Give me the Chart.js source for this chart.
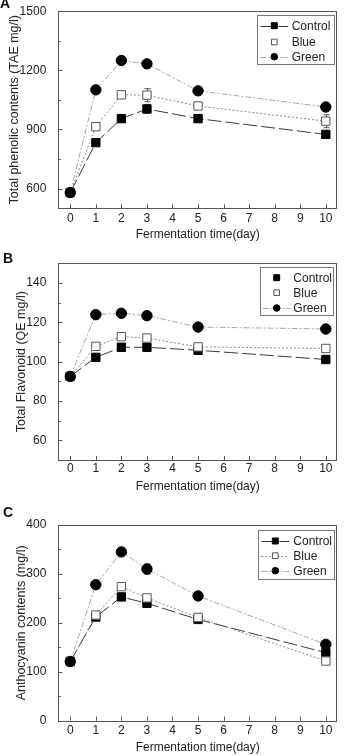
<!DOCTYPE html>
<html><head><meta charset="utf-8">
<script src="https://cdn.jsdelivr.net/npm/chart.js@4.4.1/dist/chart.umd.min.js"></script>
<style>
html,body{margin:0;padding:0;background:#fff;}
#wrap{position:relative;width:344px;height:756px;overflow:hidden;font-family:"Liberation Sans",Arial,sans-serif;}
.panel{position:absolute;left:0;width:344px;}
.letter{position:absolute;font-weight:bold;font-size:14px;color:#111;line-height:1;font-family:"Liberation Sans",Arial,sans-serif;}
canvas{display:block;}
</style></head><body>
<div id="wrap">
  <div class="panel" style="top:0;height:250px"><canvas id="cA" width="344" height="250"></canvas></div>
  <div class="panel" style="top:250px;height:250px"><canvas id="cB" width="344" height="250"></canvas></div>
  <div class="panel" style="top:500px;height:256px"><canvas id="cC" width="344" height="256"></canvas></div>
  <div class="letter" style="left:0px;top:-4px">A</div>
  <div class="letter" style="left:3px;top:251px">B</div>
  <div class="letter" style="left:3px;top:505px">C</div>
</div>
<script>
// ---- data ----
const days = [0, 1, 2, 3, 5, 10];
const dayTicks = [0, 1, 2, 3, 4, 5, 6, 7, 8, 9, 10];
const seriesNames = ['Control', 'Blue', 'Green'];
const xTitle = 'Fermentation time(day)';

const phenolTitle = 'Total phenolic contents (TAE mg/l)';
const phenolControl = [580, 833, 955, 1004, 955, 875];
const phenolBlue = [580, 914, 1076, 1074, 1019, 942];
const phenolGreen = [580, 1101, 1250, 1233, 1096, 1014];
const phenolControlErr = [6, 12, 14, 20, 12, 10];
const phenolBlueErr = [6, 12, 16, 33, 14, 33];
const phenolGreenErr = [6, 10, 14, 12, 12, 10];
const phenolTicks = [600, 900, 1200, 1500];
const phenolMinor = [750, 1050, 1350];

const flavTitle = 'Total Flavonoid (QE mg/l)';
const flavControl = [92.5, 102.2, 107.3, 107.3, 105.8, 101.1];
const flavBlue = [92.5, 107.8, 112.7, 112.0, 107.5, 106.7];
const flavGreen = [92.5, 123.9, 124.6, 123.4, 117.6, 116.6];
const flavControlErr = [0.5, 0.8, 0.8, 0.8, 0.6, 0.8];
const flavBlueErr = [0.5, 0.8, 1.0, 1.0, 0.8, 1.0];
const flavGreenErr = [0.5, 0.8, 0.8, 0.8, 0.8, 0.8];
const flavTicks = [60, 80, 100, 120, 140];
const flavMinor = [70, 90, 110, 130];

const anthoTitle = 'Anthocyanin contents (mg/l)';
const anthoControl = [121, 212, 253, 240, 207, 139];
const anthoBlue = [121, 216, 274, 251, 211, 122];
const anthoGreen = [121, 278, 345, 310, 255, 156];
const anthoControlErr = [3, 5, 6, 5, 5, 5];
const anthoBlueErr = [3, 5, 6, 6, 5, 5];
const anthoGreenErr = [3, 5, 6, 10, 6, 6];
const anthoTicks = [0, 100, 200, 300, 400];
const anthoMinor = [50, 150, 250, 350];

// ---- styles ----
const FONT = '"Liberation Sans", Arial, sans-serif';
const TXT = '#222';
const STY = {
  Control: {color: '#3a3a3a', dash: [14, 4], ps: 'rect', r: 5.9, bg: '#000', pb: '#000', lr: 4.2},
  Blue:    {color: '#8a8a8a', dash: [2, 2], ps: 'rect', r: 5.9, bg: '#fff', pb: '#555', lr: 4.0},
  Green:   {color: '#a8a8a8', dash: [6, 2, 2, 2], ps: 'circle', r: 5.2, bg: '#000', pb: '#000', lr: 3.3}
};
const ORDER = {Control: 2, Blue: 1, Green: 0};

function pts(vals) { return days.map((d, i) => ({x: d, y: vals[i]})); }

function makeDeco(cfg) {
  return {
    id: 'deco',
    beforeDatasetsDraw(chart) {
      const ctx = chart.ctx, a = chart.chartArea;
      const xs = chart.scales.x, ys = chart.scales.y;
      ctx.save();
      ctx.strokeStyle = '#555'; ctx.lineWidth = 1; ctx.setLineDash([]);
      ctx.strokeRect(Math.round(a.left) + 0.5, Math.round(a.top) + 0.5,
        Math.round(a.right - a.left) - 1, Math.round(a.bottom - a.top));
      ctx.beginPath();
      cfg.major.forEach(v => { const y = Math.round(ys.getPixelForValue(v)) + 0.5; ctx.moveTo(a.left, y); ctx.lineTo(a.left + 4, y); });
      cfg.minor.forEach(v => { const y = Math.round(ys.getPixelForValue(v)) + 0.5; ctx.moveTo(a.left, y); ctx.lineTo(a.left + 2.5, y); });
      dayTicks.forEach(v => { const x = Math.round(xs.getPixelForValue(v)) + 0.5; ctx.moveTo(x, a.bottom); ctx.lineTo(x, a.bottom - 4); });
      ctx.stroke();
      chart.data.datasets.forEach(ds => {
        if (!ds.errors) return;
        ctx.strokeStyle = ds.pointBorderColor; ctx.lineWidth = 1;
        ctx.beginPath();
        ds.data.forEach((p, i) => {
          const e = ds.errors[i]; if (!e) return;
          const x = Math.round(xs.getPixelForValue(p.x)) + 0.5;
          const y1 = ys.getPixelForValue(p.y - e), y2 = ys.getPixelForValue(p.y + e);
          ctx.moveTo(x, y1); ctx.lineTo(x, y2);
          ctx.moveTo(x - 3, y1); ctx.lineTo(x + 3, y1);
          ctx.moveTo(x - 3, y2); ctx.lineTo(x + 3, y2);
        });
        ctx.stroke();
      });
      ctx.restore();
    },
    afterDraw(chart) {
      const ctx = chart.ctx, L = cfg.legend;
      ctx.save();
      ctx.fillStyle = '#fff';
      ctx.fillRect(L.box[0], L.box[1], L.box[2] - L.box[0], L.box[3] - L.box[1]);
      ctx.strokeStyle = '#777'; ctx.lineWidth = 1; ctx.setLineDash([]);
      ctx.strokeRect(Math.round(L.box[0]) + 0.5, Math.round(L.box[1]) + 0.5,
        Math.round(L.box[2] - L.box[0]), Math.round(L.box[3] - L.box[1]));
      seriesNames.forEach((name, i) => {
        const s = STY[name], y = L.rows[i];
        if (L.lines[i]) {
          ctx.strokeStyle = s.color; ctx.setLineDash(s.dash); ctx.lineWidth = 1;
          ctx.beginPath(); ctx.moveTo(L.mx - 14, Math.round(y) + 0.5); ctx.lineTo(L.mx + 14, Math.round(y) + 0.5); ctx.stroke();
        }
        ctx.setLineDash([]);
        ctx.fillStyle = s.bg; ctx.strokeStyle = s.pb; ctx.lineWidth = 1;
        Chart.helpers.drawPoint(ctx, {pointStyle: s.ps, radius: s.lr, borderWidth: 1, rotation: 0}, L.mx, y);
        ctx.fillStyle = TXT; ctx.font = '12px ' + FONT; ctx.textBaseline = 'middle'; ctx.textAlign = 'left';
        ctx.fillText(name, L.tx, y + 0.5);
      });
      ctx.restore();
    }
  };
}

function makeChart(id, p) {
  const sets = [p.control, p.blue, p.green];
  const errs = [p.controlErr, p.blueErr, p.greenErr];
  const datasets = seriesNames.map((name, i) => {
    const s = STY[name];
    return {
      label: name, data: pts(sets[i]), errors: errs[i],
      borderColor: s.color, borderWidth: 1, borderDash: s.dash,
      pointStyle: s.ps, pointRadius: s.r, pointBackgroundColor: s.bg,
      pointBorderColor: s.pb, pointBorderWidth: 1, tension: 0, fill: false,
      order: ORDER[name]
    };
  });
  new Chart(document.getElementById(id), {
    type: 'line',
    data: {datasets},
    options: {
      responsive: false, animation: false, devicePixelRatio: 1,
      layout: {padding: {left: 0, right: 6.7, top: p.top, bottom: 0}},
      plugins: {legend: {display: false}, tooltip: {enabled: false}},
      scales: {
        x: {
          type: 'linear', min: -0.469, max: 10.442,
          afterBuildTicks: s => { s.ticks = dayTicks.map(v => ({value: v})); },
          afterFit: s => { s.height = p.xH; },
          grid: {display: false}, border: {display: false},
          ticks: {padding: p.xlp, font: {family: FONT, size: 12}, color: TXT, callback: v => String(v)},
          title: {display: true, text: xTitle, font: {family: FONT, size: 12}, color: TXT, padding: {top: 0, bottom: p.xtp}}
        },
        y: {
          type: 'linear', min: p.min, max: p.max,
          afterBuildTicks: s => { s.ticks = p.ticks.map(v => ({value: v})); },
          afterFit: s => { s.width = 58.3; },
          grid: {display: false}, border: {display: false},
          ticks: {padding: 4, font: {family: FONT, size: 12}, color: TXT, callback: v => String(v)},
          title: {display: true, text: p.title, font: {family: FONT, size: 12.5}, color: TXT, padding: {top: p.ytp, bottom: 0}}
        }
      }
    },
    plugins: [makeDeco({major: p.ticks, minor: p.minorTicks, legend: p.legend})]
  });
}

makeChart('cA', {
  control: phenolControl, blue: phenolBlue, green: phenolGreen,
  controlErr: phenolControlErr, blueErr: phenolBlueErr, greenErr: phenolGreenErr,
  min: 500, max: 1500, ticks: phenolTicks, minorTicks: phenolMinor, title: phenolTitle,
  top: 11, xH: 41.7, xlp: -4.5, xtp: 7.8, ytp: 7.5,
  legend: {box: [256.7, 15.3, 333.3, 64.3], rows: [25.7, 42, 56.7], mx: 274.3, tx: 291.7, lines: [true, false, true]}
});
makeChart('cB', {
  control: flavControl, blue: flavBlue, green: flavGreen,
  controlErr: flavControlErr, blueErr: flavBlueErr, greenErr: flavGreenErr,
  min: 50, max: 150, ticks: flavTicks, minorTicks: flavMinor, title: flavTitle,
  top: 13.3, xH: 40, xlp: -6.5, xtp: 5.8, ytp: 14,
  legend: {box: [260, 17.3, 333.3, 65], rows: [27.7, 42.7, 58], mx: 276.7, tx: 293.3, lines: [false, false, true]}
});
makeChart('cC', {
  control: anthoControl, blue: anthoBlue, green: anthoGreen,
  controlErr: anthoControlErr, blueErr: anthoBlueErr, greenErr: anthoGreenErr,
  min: 0, max: 400, ticks: anthoTicks, minorTicks: anthoMinor, title: anthoTitle,
  top: 25, xH: 35.3, xlp: -5.5, xtp: 0.8, ytp: 14,
  legend: {box: [258.3, 30, 334.3, 79], rows: [41, 55.7, 70.7], mx: 275.3, tx: 293.3, lines: [true, true, true]}
});
</script>
</body></html>
